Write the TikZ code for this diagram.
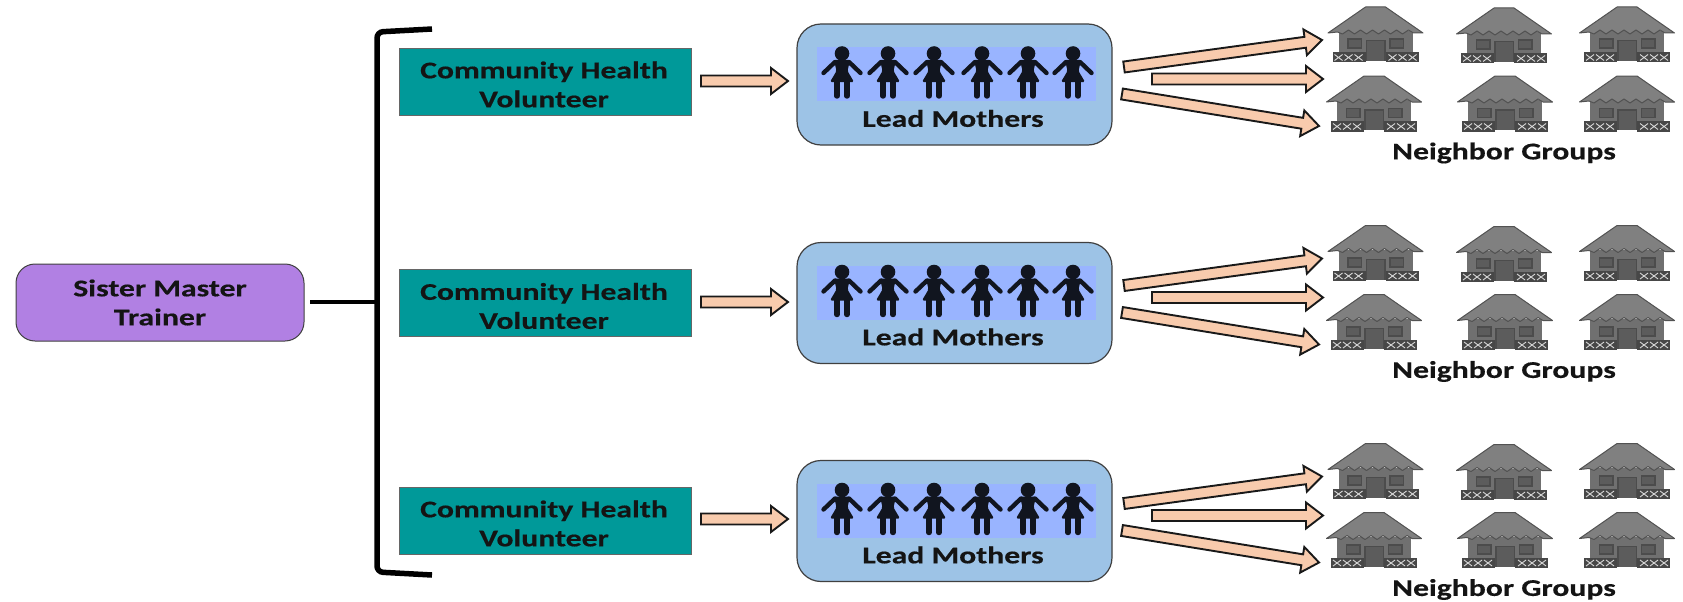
\documentclass[tikz,border=0pt]{standalone}
\usepackage{fontspec}
\usetikzlibrary{calc}
\newfontfamily\labfont[FakeStretch=1.32,FakeBold=0.4]{Carlito Bold}
\definecolor{teal1}{HTML}{009999}
\definecolor{purp}{HTML}{B180E3}
\definecolor{lblue}{HTML}{9DC3E6}
\definecolor{strip}{HTML}{99B4FF}
\definecolor{peach}{HTML}{F8CBAD}
\definecolor{fig}{HTML}{11151F}
\tikzset{
 x=1pt,y=-1pt,
 lab/.style={font=\labfont\fontsize{24}{29}\selectfont,align=center,text=black!92},
 chv/.style={draw=black!60,fill=teal1,minimum width=292pt,minimum height=67pt,inner sep=0pt,lab},
 lm/.style={draw=black!75,line width=1.2pt,fill=lblue,rounded corners=24pt,minimum width=315pt,minimum height=121pt,inner sep=0pt},
 trainer/.style={draw=black!75,line width=1pt,fill=purp,rounded corners=19pt,minimum width=288pt,minimum height=77pt,inner sep=0pt,lab},
 blockarrow/.style={draw=black!90,line width=1.9pt,fill=peach,line join=miter},
 stripbox/.style={fill=strip,minimum width=279pt,minimum height=54pt,inner sep=0pt},
 neigh/.style={lab,inner sep=0pt},
 bracket/.style={line width=5.5pt,black},
 pics/woman/.style={code={
  \fill[fig] (0,-20.5) circle (7.3);
  \fill[fig,rounded corners=1.5pt] (-8,-14) -- (8,-14) -- (5.5,-3) -- (12,8) -- (-12,8) -- (-5.5,-3) -- cycle;
  \draw[fig,line width=4.4pt,line cap=round] (-7,-12) -- (-18.5,-1);
  \draw[fig,line width=4.4pt,line cap=round] (7,-12) -- (18.5,-1);
  \draw[fig,line width=5.4pt,line cap=round] (-5,6) -- (-5,22);
  \draw[fig,line width=5.4pt,line cap=round] (5,6) -- (5,22);
 }},
 pics/house/.style={code={
  \fill[black!56] (-37,-12) rectangle (37,16);
  \fill[black!70] (-10,-3) rectangle (10,18);
  \fill[black!64] (-8.5,-1.5) rectangle (8.5,18);
  \fill[black!70] (-28.5,-4.5) rectangle (-13.5,6);
  \fill[black!70] (13.5,-4.5) rectangle (28.5,6);
  \fill[black!64] (-27,-3) rectangle (-15,4.5);
  \fill[black!64] (15,-3) rectangle (27,4.5);
  \fill[black!72] (-43,9) rectangle (-10,19.5);
  \fill[black!72] (10,9) rectangle (43,19.5);
  \foreach \q in {-37,-27,-17,17,27,37}{
   \draw[black!15,line width=.9pt] (\q-4,11.5) -- (\q+4,17.5) (\q-4,17.5) -- (\q+4,11.5);
  }
  \fill[black!50,draw=black!68,line width=1pt,line join=round] (-10,-36) -- (10,-36) -- (47.5,-10)
   -- (38,-10) -- (33,-13) -- (27,-9) -- (21,-13) -- (15,-9) -- (9,-13) -- (3,-9) -- (-3,-13) -- (-9,-9) -- (-15,-13) -- (-21,-9) -- (-27,-13) -- (-33,-9) -- (-38,-11) -- (-47.5,-10) -- cycle;
 }},
}
% block arrow from (#1) to (#2)
\newcommand{\blockarr}[2]{%
 \draw[blockarrow] let \p1=($(#2)-(#1)$),\n1={atan2(\y1,\x1)} in
   ($(#1)+(\n1+90:5.5pt)$) -- ($(#2)+(\n1:-17pt)+(\n1+90:5.5pt)$)
   -- ($(#2)+(\n1:-17pt)+(\n1+90:13pt)$) -- (#2)
   -- ($(#2)+(\n1:-17pt)+(\n1-90:13pt)$) -- ($(#2)+(\n1:-17pt)+(\n1-90:5.5pt)$)
   -- ($(#1)+(\n1-90:5.5pt)$) -- cycle;
}
\begin{document}
\begin{tikzpicture}
\useasboundingbox (0,0) rectangle (1683,602);
\node[trainer] (mt) at (160,302.5) {Sister Master\\Trainer};
\coordinate (bt) at (432,29);
\coordinate (bb) at (432,575);
\coordinate (bm) at (377,302);
\coordinate (bs) at (310,302);
\draw[bracket,rounded corners=6pt] (bt) -- (377,32) -- (377,572) -- (bb);
\draw[bracket,line width=4pt] (bs) -- (bm);
\foreach \g/\dy/\ay/\cy in {a/0/81/81.5, b/218.5/302/303, c/436.5/519/520.5}{
 \node[chv] (chv\g) at (545,\cy) {};
 \node[lab,inner sep=0pt] (ct\g) at (544,\cy+3) {Community Health\\Volunteer};
 \node[lm] (lm\g) at (954.5,84.5+\dy) {};
 \node[stripbox] (st\g) at (956.5,74+\dy) {};
 \node[lab,inner sep=0pt] (lt\g) at (953,118.5+\dy) {Lead Mothers};
 \foreach \fx in {842,888,934,982,1028,1073}{
  \pic at (\fx,74+\dy) {woman};
 }
 \coordinate (a0\g) at (701,\ay);
 \coordinate (a1\g) at (788,\ay);
 \blockarr{a0\g}{a1\g}
 \coordinate (t1\g) at (1124,67+\dy);
 \coordinate (h1\g) at (1322,40+\dy);
 \coordinate (t2\g) at (1152,79+\dy);
 \coordinate (h2\g) at (1323,79+\dy);
 \coordinate (t3\g) at (1122,94+\dy);
 \coordinate (h3\g) at (1319,126+\dy);
 \blockarr{t1\g}{h1\g}
 \blockarr{t2\g}{h2\g}
 \blockarr{t3\g}{h3\g}
 \foreach \hx/\hy in {1375.5/43,1504/44,1627/43,1374/112,1505/112,1627/112}{
  \pic at (\hx,\hy+\dy) {house};
 }
 \node[neigh] (ng\g) at (1504,153+\dy) {Neighbor Groups};
}
\end{tikzpicture}
\end{document}
